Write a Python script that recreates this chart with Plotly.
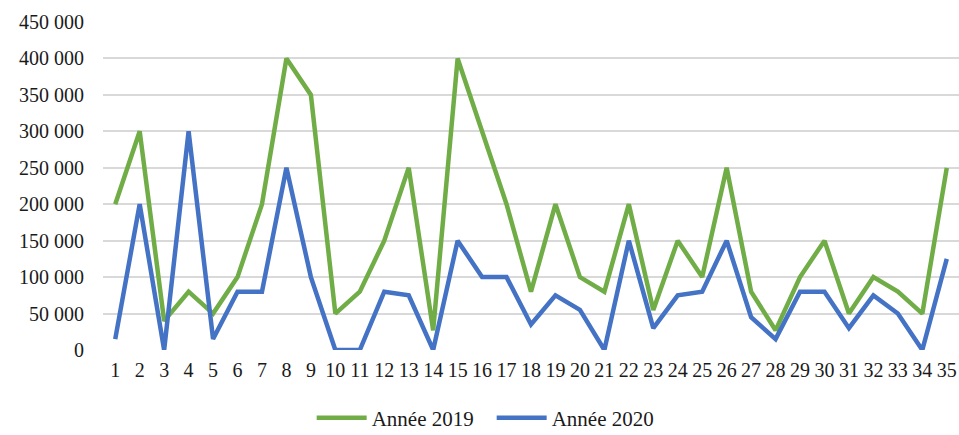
import plotly.graph_objects as go

categories = [str(i) for i in range(1, 36)]
annee_2019 = [200000, 300000, 40000, 80000, 50000, 100000, 200000, 400000, 350000, 50000,
              80000, 150000, 250000, 27000, 400000, 300000, 200000, 80000, 200000, 100000,
              80000, 200000, 55000, 150000, 100000, 250000, 80000, 27000, 100000, 150000,
              50000, 100000, 80000, 50000, 250000]
annee_2020 = [15000, 200000, 0, 300000, 15000, 80000, 80000, 250000, 100000, 0,
              0, 80000, 75000, 0, 150000, 100000, 100000, 35000, 75000, 55000,
              0, 150000, 30000, 75000, 80000, 150000, 45000, 15000, 80000, 80000,
              30000, 75000, 50000, 0, 125000]
y_ticks = [0, 50000, 100000, 150000, 200000, 250000, 300000, 350000, 400000, 450000]

font_family = "Times New Roman"

fig = go.Figure()
fig.add_trace(go.Scatter(x=categories, y=annee_2019, mode="lines", name="Année 2019",
                         line=dict(color="#70AD47", width=4.5)))
fig.add_trace(go.Scatter(x=categories, y=annee_2020, mode="lines", name="Année 2020",
                         line=dict(color="#4472C4", width=4.5)))

fig.update_layout(
    width=959, height=435,
    margin=dict(l=103, r=0, t=22, b=85),
    paper_bgcolor="white", plot_bgcolor="white",
    separators=", ",
    font=dict(family=font_family, size=20, color="#1a1a1a"),
    showlegend=True,
    legend=dict(orientation="h", xref="container", yref="container",
                x=0.325, xanchor="left", y=0.039, yanchor="middle",
                font=dict(family=font_family, size=21, color="#1a1a1a"),
                itemwidth=50, entrywidth=115, entrywidthmode="pixels",
                traceorder="normal"),
)
fig.update_xaxes(type="category", tickmode="array", tickvals=categories, ticktext=categories,
                 range=[-0.5, len(categories) - 0.5],
                 tickangle=0, showgrid=False, showline=False, zeroline=False,
                 tickfont=dict(family=font_family, size=20), ticklabelstandoff=6)
fig.update_yaxes(range=[0, 450000], tickmode="array", tickvals=y_ticks,
                 tickformat=",d", showgrid=True, gridcolor="#d9d9d9", gridwidth=1.5,
                 zeroline=False, showline=False,
                 tickfont=dict(family=font_family, size=20), ticklabelstandoff=18)

fig.write_html("out.html")
